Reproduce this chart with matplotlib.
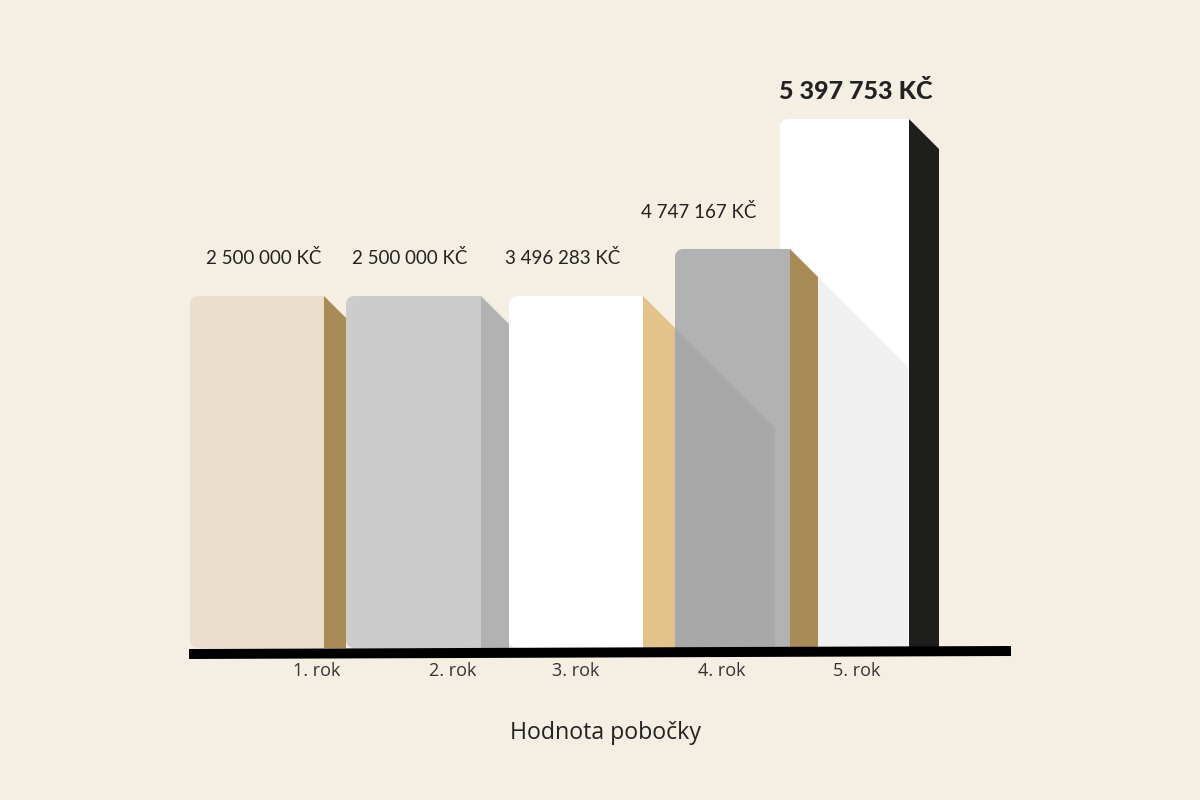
import numpy as np
import matplotlib.pyplot as plt
from matplotlib.patches import Polygon

# data
years = ['1. rok', '2. rok', '3. rok', '4. rok', '5. rok']
value_labels = ['2 500 000 KČ', '2 500 000 KČ', '3 496 283 KČ', '4 747 167 KČ', '5 397 753 KČ']
# bar heights as drawn in the picture (mil. Kč on the drawing scale)
bar_heights = [2.5, 2.5, 2.5, 2.834, 3.757]
title = 'Hodnota pobočky'

front_colors = ['#E9DFCB', '#CCCCCC', '#FFFFFF', '#B2B2B2', '#FFFFFF']
side_colors = ['#A98C55', '#B2B2B2', '#E2C38A', '#A98C55', '#1E1E1C']
shadow_colors = [None, None, None, '#A8A8A8', '#F0F0F0']

# layout (pixels)
BG = '#F4EEE3'
W, H = 1200, 800
BASE = 648
PPU = 352 / 2.5
front_left = [190, 346, 509, 675, 780]
front_right = [324, 481, 643, 790, 909]
depth = [22, 28, 32, 28, 30]
shadow_right = [None, None, None, 775, 908]
label_x = [264, 410, 563, 699, 856]
label_y = [258, 258, 258, 212, 92]
year_x = [317, 453, 576, 722, 857]


def yp(p):
    # pixel row -> data y
    return (BASE - p) / PPU


fig = plt.figure(figsize=(12, 8), dpi=100, facecolor=BG)
ax = fig.add_axes([0, 0, 1, 1])
ax.set_facecolor(BG)
ax.set_xlim(0, W)
ax.set_ylim(yp(H), yp(0))
ax.axis('off')


def front_shape(x0, x1, top, r=8):
    ry = r / PPU
    a1 = np.linspace(np.pi / 2, np.pi, 10)
    a2 = np.linspace(np.pi, 1.5 * np.pi, 10)
    pts = [(x1, 0), (x1, top)]
    pts += list(zip(x0 + r + r * np.cos(a1), top - ry + ry * np.sin(a1)))
    pts += list(zip(x0 + r + r * np.cos(a2), ry + ry * np.sin(a2)))
    return pts


for i, h in enumerate(bar_heights):
    z = 20 - 3 * i
    x0, x1, d = front_left[i], front_right[i], depth[i]
    ax.add_patch(Polygon(front_shape(x0, x1, h), closed=True, fc=front_colors[i],
                         ec='none', zorder=z))
    side = [(x1, h), (x1 + d, h - d / PPU), (x1 + d, 0), (x1, 0)]
    ax.add_patch(Polygon(side, closed=True, fc=side_colors[i], ec='none', zorder=z))
    if shadow_colors[i]:
        sx = front_right[i - 1] + depth[i - 1]
        sy = bar_heights[i - 1] - depth[i - 1] / PPU
        ex = shadow_right[i]
        ey = sy - (ex - sx) / PPU
        shade = [(sx, sy), (ex, ey), (ex, 0), (sx, 0)]
        ax.add_patch(Polygon(shade, closed=True, fc=shadow_colors[i], ec='none',
                             zorder=z + 0.5))

    bold = i == len(bar_heights) - 1
    ax.text(label_x[i], yp(label_y[i]), value_labels[i], ha='center', va='center',
            family='Lato', fontsize=18 if bold else 13.5,
            fontweight='black' if bold else 'normal', color='#222222', zorder=30)
    ax.text(year_x[i], yp(671), years[i], ha='center', va='center',
            family='Open Sans', fontsize=13, color='#333333', zorder=30)

# tilted base line
base = [(189, yp(649)), (1011, yp(646)), (1011, yp(656)), (189, yp(659))]
ax.add_patch(Polygon(base, closed=True, fc='#000000', ec='none', zorder=40))

ax.text(605, yp(733), title, ha='center', va='center', family='Open Sans',
        fontsize=16.7, color='#222222')

fig.savefig('out.png', dpi=100, facecolor=BG)
